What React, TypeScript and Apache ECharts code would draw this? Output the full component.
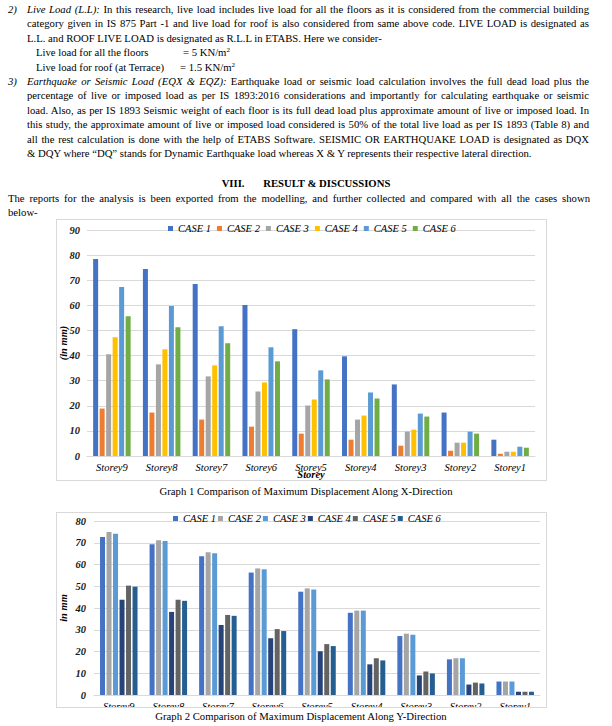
import React, { useEffect, useRef } from "react";
import * as echarts from "echarts";

const FONT = '"Liberation Serif", "Times New Roman", serif';

const categories = ["Storey9", "Storey8", "Storey7", "Storey6", "Storey5", "Storey4", "Storey3", "Storey2", "Storey1"];
const caseNames = ["CASE 1", "CASE 2", "CASE 3", "CASE 4", "CASE 5", "CASE 6"];

// Graph 1 – displacement along X (mm)
const xCase1 = [78.5, 74.5, 68.5, 60.1, 50.5, 39.7, 28.5, 17.3, 6.5];
const xCase2 = [18.9, 17.3, 14.5, 11.7, 8.9, 6.5, 4.1, 2.1, 0.9];
const xCase3 = [40.5, 36.5, 31.7, 25.7, 20.1, 14.5, 9.7, 5.3, 1.7];
const xCase4 = [47.3, 42.5, 36.1, 29.3, 22.5, 16.1, 10.5, 5.3, 1.7];
const xCase5 = [67.3, 59.7, 51.7, 43.3, 34.1, 25.3, 16.9, 9.7, 3.7];
const xCase6 = [55.7, 51.3, 44.9, 37.7, 30.5, 22.9, 15.7, 8.9, 3.3];

// Graph 2 – displacement along Y (mm)
const yCase1 = [72.6, 69.3, 63.8, 56.3, 47.5, 37.8, 27.1, 16.4, 6.2];
const yCase2 = [75.0, 71.2, 65.6, 58.2, 49.0, 38.8, 28.2, 16.9, 6.2];
const yCase3 = [74.1, 70.8, 65.2, 57.8, 48.5, 38.8, 27.7, 16.9, 6.2];
const yCase4 = [43.8, 38.2, 32.2, 26.1, 20.1, 14.1, 9.0, 4.8, 1.5];
const yCase5 = [50.3, 43.8, 36.8, 30.3, 23.4, 16.9, 10.8, 5.7, 1.5];
const yCase6 = [49.8, 43.3, 36.4, 29.4, 22.5, 15.9, 9.9, 5.3, 1.5];

const colors1 = ["#4472C4", "#ED7D31", "#A5A5A5", "#FFC000", "#5B9BD5", "#70AD47"];
const colors2 = ["#4472C4", "#A5A5A5", "#5B9BD5", "#264478", "#636363", "#255E91"];

type BuildOpts = {
  colors: string[];
  data: number[][];
  max: number;
  grid: { left: number; right: number; top: number; bottom: number };
  legendLeft: number;
  legendTop: number;
  legendGap: number;
  yName: string;
  yNameGap: number;
  yLabelMargin: number;
  xLabelMargin: number;
  xName?: string;
  xNameGap?: number;
};

function build(o: BuildOpts) {
  return {
    animation: false,
    color: o.colors,
    textStyle: { fontFamily: FONT },
    legend: {
      left: o.legendLeft,
      top: o.legendTop,
      icon: "rect",
      itemWidth: 5,
      itemHeight: 5,
      itemGap: o.legendGap,
      padding: 0,
      data: caseNames,
      textStyle: { fontFamily: FONT, fontStyle: "italic", fontSize: 10.5, color: "#000" },
    },
    grid: { ...o.grid, containLabel: false, outerBoundsMode: "none" },
    xAxis: {
      type: "category",
      data: categories,
      axisLine: { lineStyle: { color: "#d9d9d9" } },
      axisTick: { show: false },
      axisLabel: {
        interval: 0,
        margin: o.xLabelMargin,
        fontFamily: FONT,
        fontStyle: "italic",
        fontSize: 10.5,
        color: "#000",
      },
      name: o.xName || "",
      nameLocation: "middle",
      nameGap: o.xNameGap || 0,
      nameMoveOverlap: false,
      nameTextStyle: { fontFamily: FONT, fontStyle: "italic", fontWeight: "bold", fontSize: 10.5, color: "#000" },
    },
    yAxis: {
      type: "value",
      min: 0,
      max: o.max,
      interval: 10,
      axisLine: { show: false },
      axisTick: { show: false },
      splitLine: { lineStyle: { color: "#d9d9d9" } },
      axisLabel: {
        margin: o.yLabelMargin,
        fontFamily: FONT,
        fontStyle: "italic",
        fontWeight: "bold",
        fontSize: 10.5,
        color: "#1a1a1a",
      },
      name: o.yName,
      nameLocation: "middle",
      nameRotate: 90,
      nameGap: o.yNameGap,
      nameMoveOverlap: false,
      nameTextStyle: { fontFamily: FONT, fontStyle: "italic", fontWeight: "bold", fontSize: 10.5, color: "#000" },
    },
    series: o.data.map((d, i) => ({
      type: "bar",
      name: caseNames[i],
      data: d,
      barWidth: 5,
      barGap: "30%",
    })),
  };
}

const base: React.CSSProperties = {
  position: "absolute",
  height: 14,
  lineHeight: "14px",
  whiteSpace: "nowrap",
  fontFamily: FONT,
  fontSize: 10.7,
  color: "#000",
};

function Line(props: { x: number; y: number; w?: number; justify?: boolean; style?: React.CSSProperties; children: React.ReactNode }) {
  const { x, y, w, justify, style, children } = props;
  return (
    <div
      style={{
        ...base,
        left: x,
        top: y - 7,
        width: w,
        textAlign: justify ? "justify" : "left",
        textAlignLast: justify ? "justify" : "left",
        ...style,
      } as React.CSSProperties}
    >
      {children}
    </div>
  );
}

const it: React.CSSProperties = { fontStyle: "italic" };
const sup: React.CSSProperties = { fontSize: 7, verticalAlign: "top", lineHeight: "10px" };

export default function App() {
  const r1 = useRef<HTMLDivElement>(null);
  const r2 = useRef<HTMLDivElement>(null);

  useEffect(() => {
    const c1 = echarts.init(r1.current!, undefined, { renderer: "svg" });
    const c2 = echarts.init(r2.current!, undefined, { renderer: "svg" });
    c1.setOption(
      build({
        colors: colors1,
        data: [xCase1, xCase2, xCase3, xCase4, xCase5, xCase6],
        max: 90,
        grid: { left: 30, right: 11, top: 10, bottom: 24 },
        legendLeft: 111,
        legendTop: 3,
        legendGap: 6,
        yName: "(in mm)",
        yNameGap: 18.5,
        yLabelMargin: 7,
        xLabelMargin: 6,
        xName: "Storey",
        xNameGap: 13,
      })
    );
    c2.setOption(
      build({
        colors: colors2,
        data: [yCase1, yCase2, yCase3, yCase4, yCase5, yCase6],
        max: 80,
        grid: { left: 37, right: 6, top: 8, bottom: 12 },
        legendLeft: 116,
        legendTop: 0,
        legendGap: 2,
        yName: "in mm",
        yNameGap: 25,
        yLabelMargin: 8,
        xLabelMargin: 6,
      })
    );
    return () => {
      c1.dispose();
      c2.dispose();
    };
  }, []);

  const lineX = 27;
  const lineW = 562;
  const ys = [9, 23.4, 37.8, 52.2, 66.6, 81, 95.4, 109.8, 124.2, 138.6, 153];

  return (
    <div style={{ position: "absolute", left: 0, top: 0, width: 612, height: 726, background: "#fff", overflow: "hidden" }}>
      <Line x={8} y={ys[0]} style={it}>2)</Line>
      <Line x={lineX} y={ys[0]} w={lineW} justify>
        <span style={it}>Live Load (L.L):</span> In this research, live load includes live load for all the floors as it is considered from the commercial building
      </Line>
      <Line x={lineX} y={ys[1]} w={lineW} justify>
        category given in IS 875 Part -1 and live load for roof is also considered from same above code. LIVE LOAD is designated as
      </Line>
      <Line x={lineX} y={ys[2]}>L.L. and ROOF LIVE LOAD is designated as R.L.L in ETABS. Here we consider-</Line>
      <Line x={36} y={ys[3]}>Live load for all the floors</Line>
      <Line x={183} y={ys[3]}>
        = 5 KN/m<span style={sup}>2</span>
      </Line>
      <Line x={36} y={ys[4]}>Live load for roof (at Terrace)</Line>
      <Line x={180} y={ys[4]}>
        = 1.5 KN/m<span style={sup}>2</span>
      </Line>

      <Line x={8} y={ys[5]} style={it}>3)</Line>
      <Line x={lineX} y={ys[5]} w={lineW} justify>
        <span style={it}>Earthquake or Seismic Load (EQX &amp; EQZ):</span> Earthquake load or seismic load calculation involves the full dead load plus the
      </Line>
      <Line x={lineX} y={ys[6]} w={lineW} justify>
        percentage of live or imposed load as per IS 1893:2016 considerations and importantly for calculating earthquake or seismic
      </Line>
      <Line x={lineX} y={ys[7]} w={lineW} justify>
        load. Also, as per IS 1893 Seismic weight of each floor is its full dead load plus approximate amount of live or imposed load. In
      </Line>
      <Line x={lineX} y={ys[8]} w={lineW} justify>
        this study, the approximate amount of live or imposed load considered is 50% of the total live load as per IS 1893 (Table 8) and
      </Line>
      <Line x={lineX} y={ys[9]} w={lineW} justify>
        all the rest calculation is done with the help of ETABS Software. SEISMIC OR EARTHQUAKE LOAD is designated as DQX
      </Line>
      <Line x={lineX} y={ys[10]}>
        &amp; DQY where “DQ” stands for Dynamic Earthquake load whereas X &amp; Y represents their respective lateral direction.
      </Line>

      <Line x={0} y={183} w={612} style={{ textAlign: "center", textAlignLast: "center", fontWeight: "bold" } as React.CSSProperties}>
        VIII.{"\u00A0\u00A0\u00A0\u00A0\u00A0\u00A0\u00A0"}RESULT &amp; DISCUSSIONS
      </Line>
      <Line x={8} y={198} w={582} justify>
        The reports for the analysis is been exported from the modelling, and further collected and compared with all the cases shown
      </Line>
      <Line x={8} y={212}>below-</Line>

      <div
        style={{
          position: "absolute",
          left: 56,
          top: 219,
          width: 491,
          height: 262,
          boxSizing: "border-box",
          border: "1px solid #d9d9d9",
          overflow: "hidden",
        }}
      >
        <div ref={r1} style={{ width: 489, height: 260 }} />
      </div>
      <Line x={0} y={491} w={612} style={{ textAlign: "center", textAlignLast: "center" } as React.CSSProperties}>
        Graph 1 Comparison of Maximum Displacement Along X-Direction
      </Line>

      <div
        style={{
          position: "absolute",
          left: 56,
          top: 512,
          width: 491,
          height: 196,
          boxSizing: "border-box",
          border: "1px solid #d9d9d9",
          overflow: "hidden",
        }}
      >
        <div ref={r2} style={{ width: 489, height: 194 }} />
      </div>
      <Line x={0} y={716} w={602} style={{ textAlign: "center", textAlignLast: "center" } as React.CSSProperties}>
        Graph 2 Comparison of Maximum Displacement Along Y-Direction
      </Line>
    </div>
  );
}
